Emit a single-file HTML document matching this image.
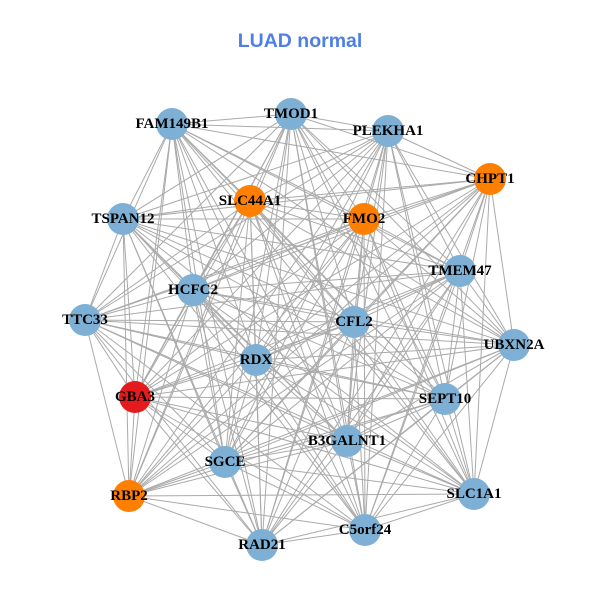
<!DOCTYPE html>
<html><head><meta charset="utf-8">
<style>
html,body{margin:0;padding:0;background:#fff;width:600px;height:600px;overflow:hidden}
svg text.l{font-family:"Liberation Serif",serif;font-weight:bold;font-size:15px;fill:#000;text-anchor:middle;dominant-baseline:central}
</style></head><body>
<svg id="s" width="600" height="600" xmlns="http://www.w3.org/2000/svg">
<text x="300" y="47" text-anchor="middle" font-family="Liberation Sans,sans-serif" font-weight="bold" font-size="19.5" fill="#4f7fe6">LUAD normal</text>
<g id="e" stroke="#aaaaaa" stroke-width="1"></g>
<g id="n">
<circle cx="291" cy="114" r="16" fill="#7eb0d5"/>
<circle cx="172" cy="124" r="16" fill="#7eb0d5"/>
<circle cx="388" cy="131" r="16" fill="#7eb0d5"/>
<circle cx="490" cy="179" r="16" fill="#ff7f00"/>
<circle cx="250" cy="201" r="16" fill="#ff7f00"/>
<circle cx="364" cy="219" r="16" fill="#ff7f00"/>
<circle cx="123" cy="219" r="16" fill="#7eb0d5"/>
<circle cx="460" cy="271" r="16" fill="#7eb0d5"/>
<circle cx="193" cy="290" r="16" fill="#7eb0d5"/>
<circle cx="85" cy="320" r="16" fill="#7eb0d5"/>
<circle cx="354" cy="322" r="16" fill="#7eb0d5"/>
<circle cx="514" cy="345" r="16" fill="#7eb0d5"/>
<circle cx="256" cy="360" r="16" fill="#7eb0d5"/>
<circle cx="135" cy="397" r="16" fill="#e41a1c"/>
<circle cx="445" cy="399" r="16" fill="#7eb0d5"/>
<circle cx="347" cy="441" r="16" fill="#7eb0d5"/>
<circle cx="225" cy="462" r="16" fill="#7eb0d5"/>
<circle cx="129" cy="496" r="16" fill="#ff7f00"/>
<circle cx="474" cy="494" r="16" fill="#7eb0d5"/>
<circle cx="365" cy="530" r="16" fill="#7eb0d5"/>
<circle cx="262" cy="545" r="16" fill="#7eb0d5"/>
</g>
<text class="l" x="291" y="114">TMOD1</text>
<text class="l" x="172" y="124">FAM149B1</text>
<text class="l" x="388" y="131">PLEKHA1</text>
<text class="l" x="490" y="179">CHPT1</text>
<text class="l" x="250" y="201">SLC44A1</text>
<text class="l" x="364" y="219">FMO2</text>
<text class="l" x="123" y="219">TSPAN12</text>
<text class="l" x="460" y="271">TMEM47</text>
<text class="l" x="193" y="290">HCFC2</text>
<text class="l" x="85" y="320">TTC33</text>
<text class="l" x="354" y="322">CFL2</text>
<text class="l" x="514" y="345">UBXN2A</text>
<text class="l" x="256" y="360">RDX</text>
<text class="l" x="135" y="397">GBA3</text>
<text class="l" x="445" y="399">SEPT10</text>
<text class="l" x="347" y="441">B3GALNT1</text>
<text class="l" x="225" y="462">SGCE</text>
<text class="l" x="129" y="496">RBP2</text>
<text class="l" x="474" y="494">SLC1A1</text>
<text class="l" x="365" y="530">C5orf24</text>
<text class="l" x="262" y="545">RAD21</text>
</svg>
<script>
var c=document.querySelectorAll('#n circle'),g=document.getElementById('e'),ns='http://www.w3.org/2000/svg';
for(var i=0;i<c.length;i++)for(var j=i+1;j<c.length;j++){
var l=document.createElementNS(ns,'line');
l.setAttribute('x1',c[i].getAttribute('cx'));l.setAttribute('y1',c[i].getAttribute('cy'));
l.setAttribute('x2',c[j].getAttribute('cx'));l.setAttribute('y2',c[j].getAttribute('cy'));
g.appendChild(l);}
</script>
</body></html>
